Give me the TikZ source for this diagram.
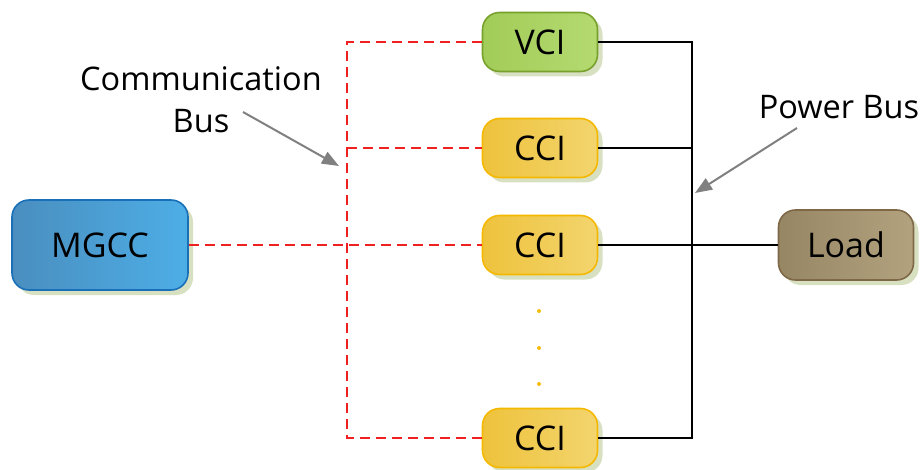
\documentclass[tikz,border=0pt]{standalone}
\usepackage{fontspec}
\setmainfont{Open Sans}
\usetikzlibrary{arrows.meta,shadows}
\definecolor{shad}{HTML}{D8E0C2}
\definecolor{busred}{HTML}{F02020}
\definecolor{arrgray}{HTML}{808080}
\definecolor{dotc}{HTML}{F5BC10}
\definecolor{HTML1}{HTML}{1A70B8}
\definecolor{mgccA}{HTML}{4A8EBF}
\definecolor{mgccB}{HTML}{4DAEE6}
\definecolor{vciD}{HTML}{78A02C}
\definecolor{vciA}{HTML}{A2CC58}
\definecolor{vciB}{HTML}{B4DA70}
\definecolor{cciD}{HTML}{F5B800}
\definecolor{cciA}{HTML}{EEC23C}
\definecolor{cciB}{HTML}{F3D56E}
\definecolor{loadD}{HTML}{7E6848}
\definecolor{loadA}{HTML}{978664}
\definecolor{loadB}{HTML}{B2A27E}
\tikzset{
  box/.style={rounded corners=17pt, line width=1.6pt, inner sep=0pt, font=\fontsize{34}{38}\selectfont,
    drop shadow={shadow xshift=5pt, shadow yshift=-5pt, fill=shad, opacity=1}},
  mgccbox/.style={box, draw=HTML1, minimum width=176pt, minimum height=90pt,
    left color=mgccA, right color=mgccB},
  vcibox/.style={box, draw=vciD, minimum width=115pt, minimum height=59pt,
    left color=vciA, right color=vciB},
  ccibox/.style={box, draw=cciD, minimum width=115pt, minimum height=59pt,
    left color=cciA, right color=cciB},
  loadbox/.style={box, draw=loadD, minimum width=135pt, minimum height=70pt,
    left color=loadA, right color=loadB},
  commline/.style={busred, line width=1.8pt, dash pattern=on 10pt off 6pt},
  powline/.style={black, line width=2pt},
  pointer/.style={arrgray, line width=2pt, -{Triangle[length=17pt,width=13pt]}},
  lbl/.style={font=\fontsize{32.5}{42}\selectfont, align=center, inner sep=0pt}
}
\begin{document}
\begin{tikzpicture}[x=1pt,y=-1pt]
\useasboundingbox (0,0) rectangle (923,470);
\node[mgccbox] (mgcc) at (100,245) {MGCC};
\node[vcibox] (vci) at (540,42) {VCI};
\node[ccibox] (cci1) at (540,148) {CCI};
\node[ccibox] (cci2) at (540,245) {CCI};
\node[ccibox] (cci3) at (540,438) {CCI};
\node[loadbox] (load) at (846,245) {Load};
% communication bus
\coordinate (cb) at (347,245);
\draw[commline] (mgcc.east) -- (cci2.west);
\draw[commline] (vci.west) -- (vci.west -| cb) -- (cci3.west -| cb) -- (cci3.west);
\draw[commline] (cci1.west -| cb) -- (cci1.west);
% power bus
\coordinate (pb) at (692,245);
\draw[powline] (vci.east) -- (vci.east -| pb) -- (cci3.east -| pb) -- (cci3.east);
\draw[powline] (cci1.east) -- (cci1.east -| pb);
\draw[powline] (cci2.east) -- (load.west);
% dots
\foreach \y [count=\i] in {311,348,384} \fill[dotc] (539,\y) circle (2pt) coordinate (d\i);
% labels
\node[lbl] (cl) at (201,100) {Communication\\Bus};
\coordinate (ca) at (243,112);
\coordinate (cat) at (339,166);
\draw[pointer] (ca) -- (cat);
\node[lbl] (pl) at (839,107) {Power Bus};
\coordinate (pa) at (797,128);
\coordinate (pat) at (695,193);
\draw[pointer] (pa) -- (pat);
\end{tikzpicture}
\end{document}
